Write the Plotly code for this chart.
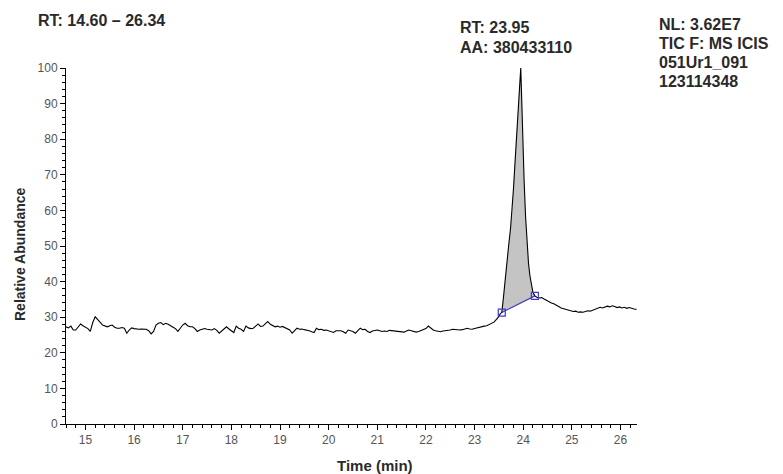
import plotly.graph_objects as go

# ---------------- data ----------------
# baseline region sampled every 0.05 min starting at 14.60
base_start = 14.60
base_step = 0.05
base_vals = [
    27.3, 27.0, 27.5, 26.4, 26.4, 27.2, 28.1, 27.6, 27.3, 26.8,
    26.0, 28.5, 30.1, 29.2, 28.6, 27.8, 27.5, 27.3, 27.6, 27.8,
    27.2, 26.9, 26.9, 27.1, 26.9, 25.5, 26.4, 27.0, 26.8, 26.6,
    26.6, 26.7, 26.6, 26.6, 26.2, 25.3, 26.0, 27.8, 28.3, 28.5,
    27.9, 28.3, 28.0, 27.5, 27.2, 26.8, 26.0, 26.9, 27.8, 28.3,
    27.6, 27.3, 27.3, 26.8, 26.0, 26.4, 26.6, 26.8, 26.6, 26.6,
    26.4, 26.8, 26.3, 25.5, 26.2, 26.9, 27.3, 26.7, 26.3, 25.7,
    27.5, 26.9, 26.6, 26.0, 27.5, 27.0, 26.8, 26.9, 27.5, 28.1,
    27.4, 27.5, 28.2, 28.8, 28.0, 27.7, 27.3, 27.5, 27.2, 27.4,
    27.1, 26.7, 26.4, 25.5, 26.3, 26.9, 26.6, 26.7, 26.5, 26.4,
    26.2, 25.9, 25.7, 26.9, 26.5, 26.6, 26.3, 26.4, 26.2, 26.0,
    25.7, 26.2, 26.3, 26.2, 25.9, 25.5, 26.4, 26.3, 26.0, 25.5,
    26.2, 26.9, 26.5, 26.6, 26.0, 25.7, 26.1, 26.3, 26.4, 26.2,
    26.0, 26.1, 26.0, 26.3, 26.2, 26.0, 26.1, 25.9, 25.7, 25.8,
    26.1, 26.4, 26.2, 26.0, 25.8, 26.0, 26.3, 26.4, 26.8, 27.5,
    26.8, 26.4, 26.2, 26.0, 25.9, 26.1, 26.2, 26.1, 26.4, 26.6,
    26.5, 26.3, 26.4, 26.5, 26.8, 26.9, 26.7, 26.6, 26.8, 27.0,
    27.3, 27.4, 27.5, 27.6, 27.9, 28.3, 28.6, 29.4,
]

# peak region
peak_times = [23.49, 23.53, 23.56, 23.59, 23.62, 23.66, 23.70, 23.74, 23.77,
              23.80, 23.83, 23.86, 23.89, 23.92, 23.95, 23.97, 23.99, 24.02,
              24.05, 24.08, 24.11, 24.14, 24.17, 24.20, 24.24]
peak_vals = [30.0, 31.0, 31.3, 35.0, 39.5, 45.0, 50.0, 55.0, 60.0,
             66.0, 73.0, 80.0, 87.0, 95.0, 100.0, 91.0, 78.0, 68.0,
             58.0, 51.0, 45.0, 41.5, 39.0, 37.0, 36.0]

# tail after the peak
tail_times = [24.28, 24.33, 24.38, 24.43, 24.48, 24.53, 24.58, 24.63, 24.68,
              24.73, 24.78, 24.83, 24.88, 24.93, 24.98, 25.03, 25.08, 25.13,
              25.18, 25.23, 25.28, 25.33, 25.38, 25.43, 25.48, 25.53, 25.58,
              25.63, 25.68, 25.73, 25.78, 25.83, 25.88, 25.93, 25.98, 26.03,
              26.08, 26.13, 26.18, 26.23, 26.28, 26.33]
tail_vals = [35.6, 35.4, 35.5, 35.1, 34.7, 34.3, 34.0, 33.8, 33.5,
             33.0, 32.6, 32.4, 32.2, 32.0, 31.8, 31.6, 31.7, 31.4,
             31.5, 31.4, 31.6, 31.8, 31.7, 32.0, 32.3, 32.5, 32.8,
             32.6, 32.9, 33.1, 32.9, 33.2, 33.0, 32.7, 32.9, 32.6,
             32.8, 32.5, 32.7, 32.4, 32.3, 32.2]

# integration baseline end points
integ_times = [23.56, 24.24]
integ_vals = [31.3, 36.0]

x_range = [14.60, 26.34]
y_range = [0, 100]

header_left = "RT: 14.60 \u2013 26.34"
peak_label = ["RT: 23.95", "AA: 380433110"]
info_label = ["NL: 3.62E7", "TIC F: MS ICIS", "051Ur1_091", "123114348"]

# ---------------- figure ----------------
base_times = [round(base_start + i * base_step, 2) for i in range(len(base_vals))]
all_t = base_times + peak_times + tail_times
all_v = base_vals + peak_vals + tail_vals

i0 = peak_times.index(integ_times[0])
i1 = peak_times.index(integ_times[1])
fill_t = peak_times[i0:i1 + 1]
fill_v = peak_vals[i0:i1 + 1]

# the page body adds an 8 px margin, so the figure is drawn 8 px in
OFF = 8
W, H = 783 - OFF, 474 - OFF
L, T = 66 - OFF, 68 - OFF
R = W - (637 - OFF)
B = H - (424 - OFF)
pw, ph = W - L - R, H - T - B


def px(xs):
    return (xs - OFF - L) / pw


def py(ys):
    return (H - B - (ys - OFF)) / ph


fig = go.Figure()
fig.add_trace(go.Scatter(x=fill_t, y=fill_v, fill="toself", fillcolor="#c4c4c4",
                         mode="lines", line=dict(width=0), hoverinfo="skip",
                         showlegend=False))
fig.add_trace(go.Scatter(x=integ_times, y=integ_vals, mode="lines",
                         line=dict(color="#3c3cc8", width=1.2), showlegend=False))
fig.add_trace(go.Scatter(x=all_t, y=all_v, mode="lines",
                         line=dict(color="black", width=1.1), showlegend=False))
fig.add_trace(go.Scatter(x=integ_times, y=integ_vals, mode="markers",
                         marker=dict(symbol="square-open", size=7,
                                     color="#3c3cc8", line=dict(width=1.2)),
                         showlegend=False))

title_font = dict(family="Liberation Sans, Arial, sans-serif", size=16, color="#2a2a2a")
tick_font = dict(family="Liberation Sans, Arial, sans-serif", size=12, color="#555555")

fig.update_layout(
    width=W, height=H,
    margin=dict(l=L, r=R, t=T, b=B, pad=0),
    paper_bgcolor="white", plot_bgcolor="white",
    showlegend=False,
    xaxis=dict(range=x_range, tickmode="linear", tick0=15, dtick=1,
               ticks="outside", ticklen=5, tickcolor="black", tickwidth=1,
               showline=True, linecolor="black", linewidth=1,
               showgrid=False, zeroline=False, tickfont=tick_font,
               minor=dict(tick0=15, dtick=0.2, ticks="outside", ticklen=3,
                          tickcolor="black", showgrid=False)),
    yaxis=dict(range=y_range, tickmode="linear", tick0=0, dtick=10,
               ticks="outside", ticklen=5, tickcolor="black", tickwidth=1,
               showline=True, linecolor="black", linewidth=1,
               showgrid=False, zeroline=False, tickfont=tick_font,
               minor=dict(tick0=0, dtick=2, ticks="outside", ticklen=3,
                          tickcolor="black", showgrid=False)),
)

ann = []
ann.append(dict(text="<b>%s</b>" % header_left, x=px(36), y=py(21),
                xanchor="left", yanchor="middle"))
for k, s in enumerate(peak_label):
    ann.append(dict(text="<b>%s</b>" % s, x=px(458), y=py(28 + 19 * k),
                    xanchor="left", yanchor="middle"))
for k, s in enumerate(info_label):
    ann.append(dict(text="<b>%s</b>" % s, x=px(657), y=py(25 + 18.8 * k),
                    xanchor="left", yanchor="middle"))
ann.append(dict(text="<b>Time (min)</b>", x=px(375), y=py(465),
                xanchor="center", yanchor="middle",
                font=dict(family="Liberation Sans, Arial, sans-serif", size=15,
                          color="#2a2a2a")))
ann.append(dict(text="<b>Relative Abundance</b>", x=px(20), y=py(254),
                xanchor="center", yanchor="middle", textangle=-90,
                font=dict(family="Liberation Sans, Arial, sans-serif", size=14,
                          color="#2a2a2a")))
for a in ann:
    a.setdefault("font", title_font)
    a.update(xref="paper", yref="paper", showarrow=False)
fig.update_layout(annotations=ann)

fig.write_html("out.html")
